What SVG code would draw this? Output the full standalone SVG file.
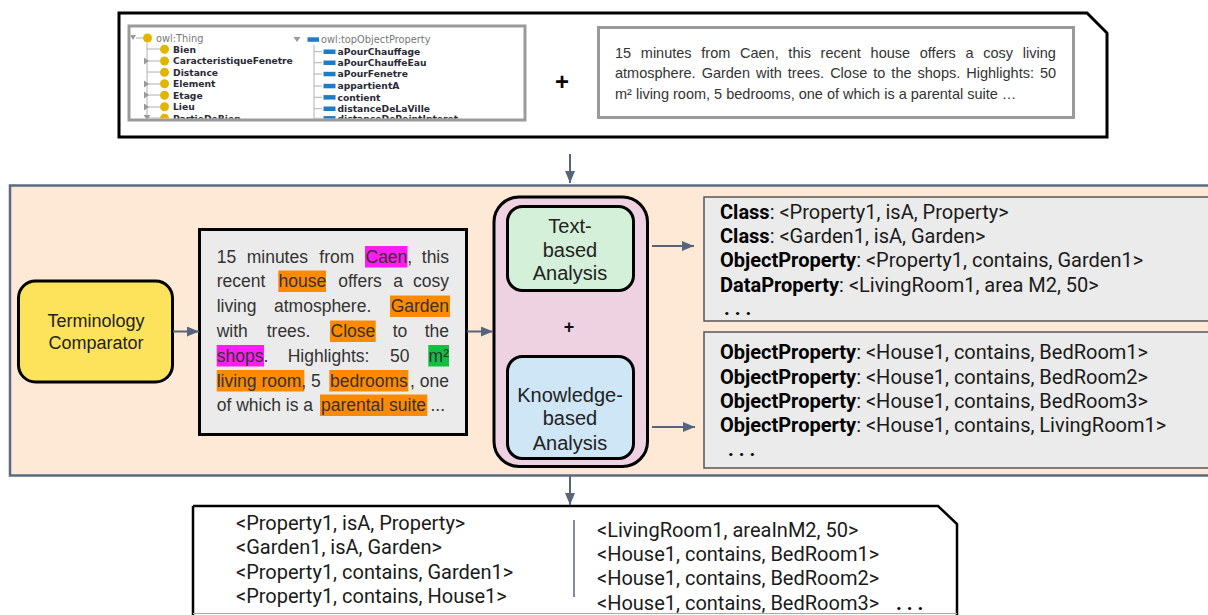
<svg xmlns="http://www.w3.org/2000/svg" width="1208" height="615" viewBox="0 0 1208 615">
<defs>
<marker id="ah" markerUnits="userSpaceOnUse" markerWidth="12" markerHeight="10" refX="12" refY="5" orient="auto"><path d="M0,0 L12,5 L0,10 Z" fill="#56657c"/></marker>
<clipPath id="ontoClip"><rect x="130.5" y="27.5" width="393" height="91"/></clipPath>
<style>
.conn{stroke:#56657c;stroke-width:2;fill:none}
.arial{font-family:"Liberation Sans",Arial,sans-serif}
.rob{font-family:Roboto,"Liberation Sans",sans-serif;font-size:20px;fill:#1a1a1a}
.b{font-weight:bold;fill:#000}
.mid{font-family:"Liberation Sans",Arial,sans-serif;font-size:17.5px;fill:#333}
.top{font-family:"Liberation Sans",Arial,sans-serif;font-size:14.5px;fill:#333}
.onb{font-family:"DejaVu Sans",sans-serif;font-size:9.2px;font-weight:bold;fill:#2a2a35}
.onr{font-family:"DejaVu Sans",sans-serif;font-size:9.8px;fill:#777}
.dot{fill:#e2b600}
.bar{fill:#1e7bc8}
.tree{stroke:#b0b0b0;stroke-width:1;fill:none}
.tri{fill:#9a9a9a}
.hlo{fill:#ff8a00}
.hlm{fill:#ff1cf0}
.hlg{fill:#10c040}
.gbox{fill:#ebebeb;stroke:#555;stroke-width:1.5}
.cap{font-family:"Liberation Sans",Arial,sans-serif;font-size:20px;fill:#222;text-anchor:middle}
</style>
</defs>

<g id="input">
<path d="M119,13 L1087,13 L1107,33 L1107,137 L119,137 Z" fill="#fff" stroke="#000" stroke-width="3"/>
<g id="ontology">
<rect x="129" y="26" width="396" height="94" fill="#fff" stroke="#9a9a9a" stroke-width="3"/>
<g clip-path="url(#ontoClip)">
<path class="tri" d="M130,35 L136,35 L133,40 Z"/>
<path class="tree" d="M136,38 L143,38 M147,43 L147,122 M147,49 L160,49 M147,61 L160,61 M147,72 L160,72 M147,84 L160,84 M147,95 L160,95 M147,107 L160,107 M147,118 L160,118"/>
<circle class="dot" cx="147.5" cy="38" r="4.5"/>
<text class="onr" x="156" y="41.5">owl:Thing</text>
<path class="tri" d="M144,57.5 L149,61 L144,64.5 Z M144,80.5 L149,84 L144,87.5 Z M144,91.5 L149,95 L144,98.5 Z M144,103.5 L149,107 L144,110.5 Z M143.5,115 L150.5,115 L147,120 Z"/>
<circle class="dot" cx="164.5" cy="49.3" r="4.5"/>
<circle class="dot" cx="164.5" cy="61" r="4.5"/>
<circle class="dot" cx="164.5" cy="72.3" r="4.5"/>
<circle class="dot" cx="164.5" cy="83.7" r="4.5"/>
<circle class="dot" cx="164.5" cy="95.3" r="4.5"/>
<circle class="dot" cx="164.5" cy="106.7" r="4.5"/>
<circle class="dot" cx="164.5" cy="118.3" r="4.5"/>
<text class="onb" x="173" y="52.6">Bien</text>
<text class="onb" x="173" y="64.3">CaracteristiqueFenetre</text>
<text class="onb" x="173" y="75.6">Distance</text>
<text class="onb" x="173" y="87">Element</text>
<text class="onb" x="173" y="98.6">Etage</text>
<text class="onb" x="173" y="110">Lieu</text>
<text class="onb" x="173" y="121.6">PartieDeBien</text>
<path class="tri" d="M293.5,37 L300.5,37 L297,42 Z"/>
<rect class="bar" x="307.5" y="37.3" width="11.5" height="4.5"/>
<text class="onr" x="321" y="43">owl:topObjectProperty</text>
<path class="tree" d="M314,45 L314,122 M314,51.7 L322,51.7 M314,62.7 L322,62.7 M314,74 L322,74 M314,86 L322,86 M314,97.3 L322,97.3 M314,108.7 L322,108.7 M314,118.3 L322,118.3"/>
<rect class="bar" x="323.5" y="49.5" width="12" height="4.5"/>
<rect class="bar" x="323.5" y="60.5" width="12" height="4.5"/>
<rect class="bar" x="323.5" y="71.8" width="12" height="4.5"/>
<rect class="bar" x="323.5" y="83.8" width="12" height="4.5"/>
<rect class="bar" x="323.5" y="95.1" width="12" height="4.5"/>
<rect class="bar" x="323.5" y="106.5" width="12" height="4.5"/>
<rect class="bar" x="323.5" y="116.1" width="12" height="4.5"/>
<text class="onb" x="337.5" y="55">aPourChauffage</text>
<text class="onb" x="337.5" y="66">aPourChauffeEau</text>
<text class="onb" x="337.5" y="77.3">aPourFenetre</text>
<text class="onb" x="337.5" y="89.3">appartientA</text>
<text class="onb" x="337.5" y="100.6">contient</text>
<text class="onb" x="337.5" y="112">distanceDeLaVille</text>
<text class="onb" x="337.5" y="121.6">distanceDePointInteret</text>
</g>
</g>
<text class="arial" x="562" y="89.5" font-size="24" font-weight="bold" text-anchor="middle" fill="#000">+</text>
<g id="listing">
<rect x="598.5" y="27.5" width="475" height="90" fill="#fff" stroke="#9a9a9a" stroke-width="3"/>
<text class="top" x="615" y="57.5" word-spacing="5.66">15 minutes from Caen, this recent house offers a cosy living</text>
<text class="top" x="615" y="78" word-spacing="2.0">atmosphere. Garden with trees. Close to the shops. Highlights: 50</text>
<text class="top" x="615" y="98.5">m² living room, 5 bedrooms, one of which is a parental suite …</text>
</g>
</g>

<g id="process">
<rect x="10" y="185.5" width="1200" height="290" fill="#fde9d5" stroke="#5a6a82" stroke-width="2.5"/>
</g>

<g id="terminology-comparator">
<rect x="18.5" y="281" width="154" height="101" rx="17" fill="#fde35c" stroke="#000" stroke-width="3"/>
<text class="arial" x="96" y="327" font-size="18" text-anchor="middle" fill="#222">Terminology</text>
<text class="arial" x="96" y="349" font-size="18" text-anchor="middle" fill="#222">Comparator</text>
</g>

<g id="annotated-text">
<rect x="199.5" y="229.5" width="267" height="205" fill="#ebebeb" stroke="#000" stroke-width="3"/>
<rect class="hlm" x="365" y="246" width="42.5" height="21.5"/>
<rect class="hlo" x="278.3" y="270.5" width="47.7" height="21.5"/>
<rect class="hlo" x="390" y="295.5" width="60" height="21.5"/>
<rect class="hlo" x="330" y="320.5" width="45.7" height="21.5"/>
<rect class="hlm" x="216.7" y="345" width="47.3" height="21.5"/>
<rect class="hlg" x="428.3" y="345" width="20.7" height="21.5"/>
<rect class="hlo" x="216.7" y="370" width="87.6" height="21.5"/>
<rect class="hlo" x="329.3" y="370" width="79" height="21.5"/>
<rect class="hlo" x="320" y="394.5" width="107.3" height="21.5"/>
<text class="mid" y="262.5"><tspan x="216.7">15</tspan><tspan x="246.7">minutes</tspan><tspan x="319.3">from</tspan><tspan x="365.5">Caen,</tspan></text>
<text class="mid" x="449" y="262.5" text-anchor="end">this</text>
<text class="mid" y="287"><tspan x="216.7">recent</tspan><tspan x="278.5">house</tspan><tspan x="338.3">offers</tspan><tspan x="393.3">a</tspan></text>
<text class="mid" x="449" y="287" text-anchor="end">cosy</text>
<text class="mid" y="312"><tspan x="216.7">living</tspan><tspan x="274">atmosphere.</tspan></text>
<text class="mid" x="449" y="312" text-anchor="end">Garden</text>
<text class="mid" y="337"><tspan x="216.7">with</tspan><tspan x="266.7">trees.</tspan><tspan x="330.5">Close</tspan><tspan x="392.7">to</tspan></text>
<text class="mid" x="449" y="337" text-anchor="end">the</text>
<text class="mid" y="361.5"><tspan x="216.7">shops.</tspan><tspan x="287.7">Highlights:</tspan><tspan x="390">50</tspan></text>
<text class="mid" x="449" y="361.5" text-anchor="end">m²</text>
<text class="mid" y="386.5"><tspan x="216.7">living room, 5</tspan><tspan x="330">bedrooms</tspan></text>
<text class="mid" x="449" y="386.5" text-anchor="end">, one</text>
<text class="mid" y="411"><tspan x="216.7">of which is a</tspan><tspan x="321">parental suite</tspan><tspan x="430.5">...</tspan></text>
</g>

<g id="analysis">
<rect x="494" y="197" width="153.5" height="269.5" rx="25" fill="#efd2e1" stroke="#000" stroke-width="3"/>
<text class="arial" x="569" y="332.5" font-size="18" font-weight="bold" text-anchor="middle" fill="#111">+</text>
</g>
<g id="text-based-analysis">
<rect x="507.5" y="206.5" width="126" height="84" rx="15" fill="#d4f0d8" stroke="#000" stroke-width="3"/>
<text class="cap" x="570" y="233">Text-</text>
<text class="cap" x="570" y="256.5">based</text>
<text class="cap" x="570" y="279.5">Analysis</text>
</g>
<g id="knowledge-based-analysis">
<rect x="507.5" y="356.5" width="126" height="102" rx="15" fill="#cfe6f6" stroke="#000" stroke-width="3"/>
<text class="cap" x="570" y="401.5">Knowledge-</text>
<text class="cap" x="570" y="425">based</text>
<text class="cap" x="570" y="450">Analysis</text>
</g>

<g id="text-triples">
<rect class="gbox" x="704" y="197" width="506" height="124"/>
<text class="rob" x="720" y="218.5"><tspan class="b">Class</tspan>: &lt;Property1, isA, Property&gt;</text>
<text class="rob" x="720" y="243"><tspan class="b">Class</tspan>: &lt;Garden1, isA, Garden&gt;</text>
<text class="rob" x="720" y="267"><tspan class="b">ObjectProperty</tspan>: &lt;Property1, contains, Garden1&gt;</text>
<text class="rob" x="720" y="291.5"><tspan class="b">DataProperty</tspan>: &lt;LivingRoom1, area M2, 50&gt;</text>
<text class="rob b" x="724" y="315">. . .</text>
</g>
<g id="knowledge-triples">
<rect class="gbox" x="704" y="332" width="506" height="136"/>
<text class="rob" x="720" y="359"><tspan class="b">ObjectProperty</tspan>: &lt;House1, contains, BedRoom1&gt;</text>
<text class="rob" x="720" y="383.5"><tspan class="b">ObjectProperty</tspan>: &lt;House1, contains, BedRoom2&gt;</text>
<text class="rob" x="720" y="407.5"><tspan class="b">ObjectProperty</tspan>: &lt;House1, contains, BedRoom3&gt;</text>
<text class="rob" x="720" y="432"><tspan class="b">ObjectProperty</tspan>: &lt;House1, contains, LivingRoom1&gt;</text>
<text class="rob b" x="728" y="456">. . .</text>
</g>

<g id="output">
<path d="M193,506 L938,506 L957,524 L957,617 M193,617 L193,506" fill="#fff" stroke="#000" stroke-width="2.5"/>
<line x1="193" y1="613.5" x2="957" y2="613.5" stroke="#aaa" stroke-width="1"/>
<line x1="574" y1="520" x2="574" y2="597" stroke="#56657c" stroke-width="1.5"/>
<text class="rob" x="236" y="530">&lt;Property1, isA, Property&gt;</text>
<text class="rob" x="236" y="554">&lt;Garden1, isA, Garden&gt;</text>
<text class="rob" x="236" y="578.5">&lt;Property1, contains, Garden1&gt;</text>
<text class="rob" x="236" y="603">&lt;Property1, contains, House1&gt;</text>
<text class="rob" x="597" y="537">&lt;LivingRoom1, areaInM2, 50&gt;</text>
<text class="rob" x="597" y="561">&lt;House1, contains, BedRoom1&gt;</text>
<text class="rob" x="597" y="585">&lt;House1, contains, BedRoom2&gt;</text>
<text class="rob" x="597" y="609.5">&lt;House1, contains, BedRoom3&gt;</text>
<text class="rob b" x="896" y="609.5">. . .</text>
</g>

<g id="connectors">
<line class="conn" x1="570" y1="154" x2="570" y2="183" marker-end="url(#ah)"/>
<line class="conn" x1="173" y1="331.5" x2="199" y2="331.5" marker-end="url(#ah)"/>
<line class="conn" x1="467" y1="331.5" x2="493" y2="331.5" marker-end="url(#ah)"/>
<line class="conn" x1="652" y1="246" x2="694" y2="246" marker-end="url(#ah)"/>
<line class="conn" x1="652" y1="427" x2="695" y2="427" marker-end="url(#ah)"/>
<line class="conn" x1="570" y1="476" x2="570" y2="505" marker-end="url(#ah)"/>
</g>
</svg>
